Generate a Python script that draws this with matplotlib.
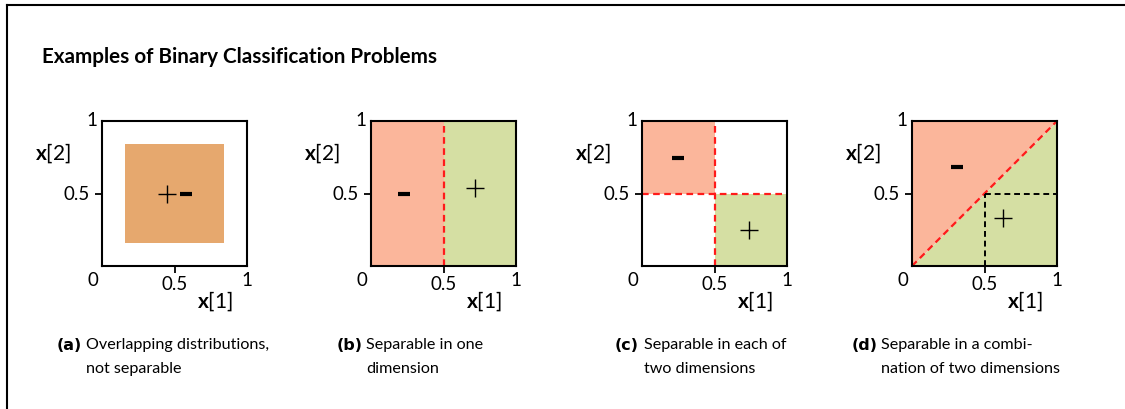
import numpy as np
import matplotlib.pyplot as plt
from matplotlib.lines import Line2D

plt.rcParams['font.family'] = ['Lato', 'DejaVu Sans']
plt.rcParams['mathtext.fontset'] = 'custom'
plt.rcParams['mathtext.rm'] = 'Lato'
plt.rcParams['mathtext.bf'] = 'Lato:bold'

# panel data
panel_tags = ['(a)', '(b)', '(c)', '(d)']
caption_lines = [
    ['Overlapping distributions,', 'not separable'],
    ['Separable in one', 'dimension'],
    ['Separable in each of', 'two dimensions'],
    ['Separable in a combi-', 'nation of two dimensions'],
]
plus_x = [0.45, 0.72, 0.74, 0.63]
plus_y = [0.50, 0.54, 0.25, 0.33]
minus_x = [0.58, 0.23, 0.25, 0.31]
minus_y = [0.50, 0.50, 0.745, 0.68]
overlap_lo, overlap_hi = 0.16, 0.84
split = 0.5

c_neg = '#fbb69b'
c_pos = '#d5dfa3'
c_mix = '#e6a86e'
c_line = '#ff1a1a'

fig = plt.figure(figsize=(11.25, 4.09), dpi=100)

# frame lines along top and left
fig.add_artist(Line2D([7/1125, 1], [1 - 5/409, 1 - 5/409], color='black', lw=1.5))
fig.add_artist(Line2D([7/1125, 7/1125], [0, 1 - 5/409], color='black', lw=1.5))

fig.text(42/1125, 1 - 57/409, 'Examples of Binary Classification Problems',
         fontsize=14.9, fontweight='bold', va='center', ha='left')

lefts = [102, 371, 642, 912]
axes = []
for i, lx in enumerate(lefts):
    ax = fig.add_axes([lx/1125, 143/409, 145/1125, 145/409])
    ax.set_xlim(0, 1)
    ax.set_ylim(0, 1)
    ax.set_xticks([0.5])
    ax.set_yticks([0.5])
    ax.set_xticklabels(['0.5'])
    ax.set_yticklabels(['0.5'])
    ax.tick_params(length=5, width=1.3, labelsize=13.5)
    ax.tick_params(axis='x', pad=2)
    ax.tick_params(axis='y', pad=4)
    for s in ax.spines.values():
        s.set_linewidth(1.5)
    ax.text(-0.06, -0.04, '0', transform=ax.transAxes, fontsize=13.5, ha='center', va='top')
    ax.text(1.0, -0.04, '1', transform=ax.transAxes, fontsize=13.5, ha='center', va='top')
    ax.text(-0.07, 1.0, '1', transform=ax.transAxes, fontsize=13.5, ha='center', va='center')
    ax.text(0.78, -0.24, r'$\mathbf{x}\mathrm{[1]}$', transform=ax.transAxes,
            fontsize=15, ha='center', va='center')
    ax.text(-0.34, 0.78, r'$\mathbf{x}\mathrm{[2]}$', transform=ax.transAxes,
            fontsize=15, ha='center', va='center')
    axes.append(ax)

# (a) overlapping classes
ax = axes[0]
ax.fill_between([overlap_lo, overlap_hi], overlap_lo, overlap_hi, color=c_mix, lw=0)

# (b) split on x[1]
ax = axes[1]
ax.fill_between([0, split], 0, 1, color=c_neg, lw=0)
ax.fill_between([split, 1], 0, 1, color=c_pos, lw=0)
ax.plot([split, split], [0, 1], '--', color=c_line, lw=1.6, dashes=(3, 2))

# (c) quadrants
ax = axes[2]
ax.fill_between([0, split], split, 1, color=c_neg, lw=0)
ax.fill_between([split, 1], 0, split, color=c_pos, lw=0)
ax.plot([split, split], [0, 1], '--', color=c_line, lw=1.6, dashes=(3, 2))
ax.plot([0, 1], [split, split], '--', color=c_line, lw=1.6, dashes=(3, 2))

# (d) diagonal boundary
ax = axes[3]
ax.fill_between([0, 1], [0, 1], 1, color=c_neg, lw=0)
ax.fill_between([0, 1], 0, [0, 1], color=c_pos, lw=0)
ax.plot([0, 1], [0, 1], '--', color=c_line, lw=1.6, dashes=(3, 2))
ax.plot([split, split], [0, split], '--', color='black', lw=1.4, dashes=(3, 2))
ax.plot([split, 1], [split, split], '--', color='black', lw=1.4, dashes=(3, 2))

for i, ax in enumerate(axes):
    ax.plot(plus_x[i], plus_y[i], marker='+', color='black', ms=13, mew=1.0)
    ax.plot(minus_x[i], minus_y[i], marker='_', color='black', ms=9, mew=3)

cap_left = [57, 337, 615, 852]
for i, cx in enumerate(cap_left):
    fig.text(cx/1125, 1 - 345/409, panel_tags[i], fontsize=11.5, fontweight='bold',
             family='DejaVu Sans', ha='left', va='center')
    fig.text((cx + 29)/1125, 1 - 345/409, caption_lines[i][0], fontsize=11.6,
             ha='left', va='center')
    fig.text((cx + 29)/1125, 1 - 369/409, caption_lines[i][1], fontsize=11.6,
             ha='left', va='center')

fig.savefig('out.png', dpi=100)
